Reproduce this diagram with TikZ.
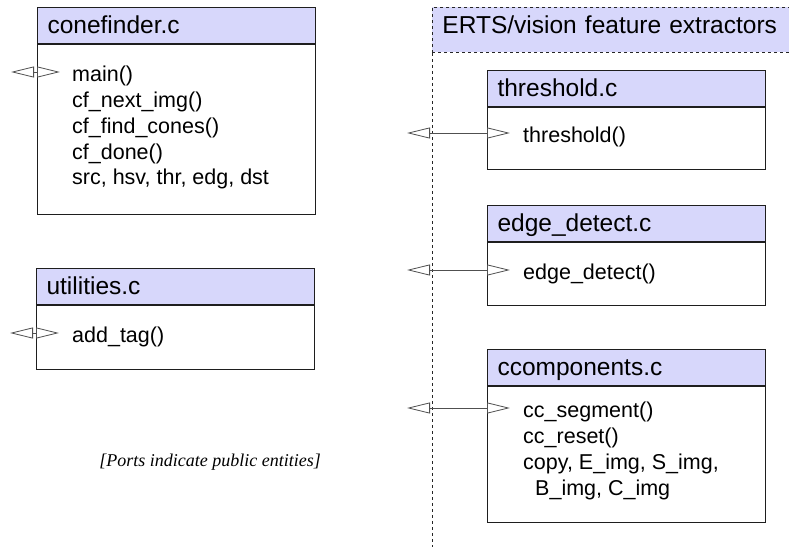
\documentclass[tikz,border=0pt]{standalone}
\usepackage{fontspec}
\setmainfont{Liberation Sans}
\newfontfamily\notefont{Liberation Serif}
\usetikzlibrary{arrows.meta,positioning}

\begin{document}
\begin{tikzpicture}[x=1pt,y=-1pt,
	modhead/.style={draw=modLine,line width=1.1pt,fill=modHead,anchor=north west,
		minimum width=278pt,minimum height=36pt,inner xsep=10pt,inner ysep=0pt,
		text width=258pt,align=left,text height=18pt,text depth=2pt,
		font=\fontsize{24.5pt}{28pt}\selectfont},
	modbody/.style={draw=modLine,line width=1.1pt,fill=white,anchor=north west,
		minimum width=278pt,minimum height=#1},
	member/.style={anchor=base west,inner sep=0pt,font=\fontsize{21.5pt}{25.8pt}\selectfont},
	port/.style={draw=modPort,line width=0.8pt,
		{Triangle[open,length=23pt,width=11pt]}-{Triangle[open,length=23pt,width=11pt]}},
	pkgline/.style={draw=black!85,line width=0.9pt,dash pattern=on 3pt off 3pt}]
\definecolor{modHead}{HTML}{D7D7FB}
\definecolor{modLine}{HTML}{1E1E1E}
\definecolor{modPort}{HTML}{505050}
\useasboundingbox (0,0) rectangle (789,546);
\clip (0,0) rectangle (789,546);

\node[modhead,pkgline,minimum width=400pt,minimum height=45pt,text width=380pt,text depth=11pt]
	(erts) at (432,7) {ERTS/vision feature extractors};
\coordinate (ertsend) at (432,560);
\draw[pkgline] (erts.south west) -- (ertsend);

\node[modhead] (cfhead) at (37,7) {conefinder.c};
\node[modbody=170pt] (cfbody) at (cfhead.south west) {};
\node[modhead] (uthead) at (36,268) {utilities.c};
\node[modbody=64pt] (utbody) at (uthead.south west) {};
\node[modhead] (thhead) at (487,70) {threshold.c};
\node[modbody=62pt] (thbody) at (thhead.south west) {};
\node[modhead] (edhead) at (487,205) {edge\_detect.c};
\node[modbody=63pt] (edbody) at (edhead.south west) {};
\node[modhead] (cchead) at (487,349) {ccomponents.c};
\node[modbody=136pt] (ccbody) at (cchead.south west) {};

\foreach \yy/\txt in {81/main(),107/cf\_next\_img(),133/cf\_find\_cones(),
	159/cf\_done(),184/{src, hsv, thr, edg, dst}}
	\node[member] (cf\yy) at (72,\yy) {\txt};
\node[member] (ut342) at (72,342) {add\_tag()};
\node[member] (th142) at (523,142) {threshold()};
\node[member] (ed279) at (523,279) {edge\_detect()};
\foreach \yy/\txt in {417/cc\_segment(),443/cc\_reset(),469/{copy, E\_img, S\_img,},
	495/{\hspace*{12pt}B\_img, C\_img}}
	\node[member] (cc\yy) at (523,\yy) {\txt};

\coordinate (cfout) at (11,72);
\coordinate (cfin) at (60,72);
\coordinate (utout) at (10,333);
\coordinate (utin) at (59,333);
\coordinate (thout) at (407,133);
\coordinate (thin) at (510,133);
\coordinate (edout) at (407,270);
\coordinate (edin) at (510,270);
\coordinate (ccout) at (407,408);
\coordinate (ccin) at (510,408);
\foreach \pp in {cf,ut,th,ed,cc}
	\draw[port] (\pp out) -- (\pp in);

\node[anchor=base,inner sep=0pt,font=\notefont\itshape\fontsize{18pt}{21pt}\selectfont]
	(note) at (210,466) {[Ports indicate public entities]};
\end{tikzpicture}
\end{document}
